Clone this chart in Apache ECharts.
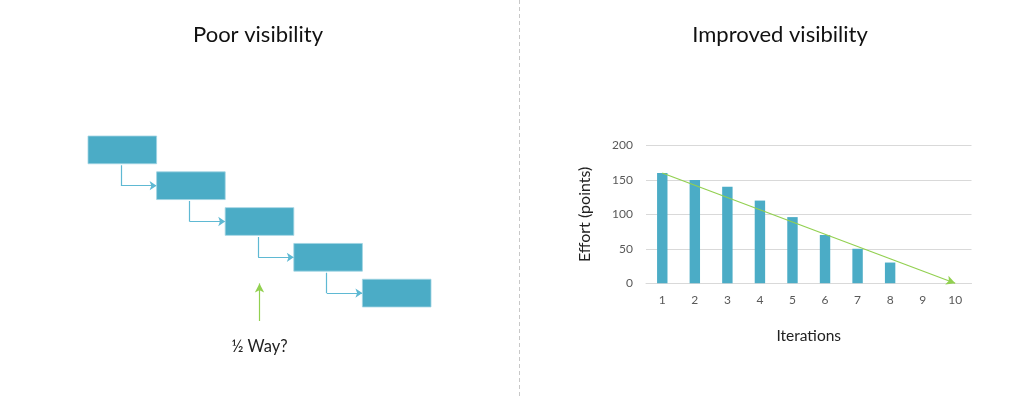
<!DOCTYPE html>
<html><head><meta charset="utf-8">
<script src="https://cdn.jsdelivr.net/npm/echarts@6/dist/echarts.min.js"></script>
<style>html,body{margin:0;padding:0;background:#fff}#c{width:1024px;height:399px}</style>
</head><body><div id="c"></div>
<script>
// Right chart data
const iterations = ['1','2','3','4','5','6','7','8','9','10'];
const effort = [160,150,140,120,96,70,50,30,null,null];
const idealStart = 160;
const idealEnd = 0;
// Left diagram data
const taskNames = ['Task 1','Task 2','Task 3','Task 4','Task 5'];
const taskStart = [0,1,2,3,4];
const taskEnd = [1,2,3,4,5];
const halfway = 2.5;
const halfwayLabel = '½ Way?';

const teal = '#4bacc6';
const green = '#92d050';
const connColor = '#5fb9d3';
const font = 'Lato, "Open Sans", sans-serif';

const taskData = taskNames.map((n,i)=>[taskStart[i], taskEnd[i], i + 0.5, n]);
const connDown = [], connRight = [];
for (let i = 0; i < taskNames.length - 1; i++) {
  const x0 = taskStart[i] + 0.48;
  connDown.push({coords: [[x0, i + 0.5 + 0.43], [x0, i + 1.5]]});
  connRight.push({coords: [[x0, i + 1.5], [taskStart[i+1], i + 1.5]]});
}

const chart = echarts.init(document.getElementById('c'));
chart.setOption({
  animation: false,
  backgroundColor: '#fff',
  title: [
    {text: 'Poor visibility', left: 253, top: 19, textAlign: 'center',
     textStyle: {fontFamily: font, fontSize: 22, fontWeight: 'normal', color: '#111'}},
    {text: 'Improved visibility', left: 775, top: 19, textAlign: 'center',
     textStyle: {fontFamily: font, fontSize: 22, fontWeight: 'normal', color: '#111'}}
  ],
  graphic: [{type: 'line', shape: {x1: 519.5, y1: 0, x2: 519.5, y2: 399},
             style: {stroke: '#c8c8c8', lineWidth: 1, lineDash: [4, 3]}}],
  grid: [
    {left: 88, top: 132, width: 343, height: 214.8},
    {left: 646, top: 145.5, width: 325.5, height: 137.7}
  ],
  xAxis: [
    {gridIndex: 0, type: 'value', min: 0, max: 5, show: false},
    {gridIndex: 1, type: 'category', data: iterations,
     axisLine: {lineStyle: {color: '#d9d9d9'}}, axisTick: {show: false},
     axisLabel: {color: '#595959', fontSize: 12, fontFamily: font, margin: 11},
     name: 'Iterations', nameLocation: 'middle', nameGap: 45,
     nameTextStyle: {color: '#222', fontSize: 15.5, fontFamily: font}}
  ],
  yAxis: [
    {gridIndex: 0, type: 'value', min: 0, max: 6, inverse: true, show: false},
    {gridIndex: 1, type: 'value', min: 0, max: 200, interval: 50,
     axisLine: {show: false}, axisTick: {show: false},
     splitLine: {lineStyle: {color: '#d9d9d9'}},
     axisLabel: {color: '#595959', fontSize: 12, fontFamily: font, margin: 13},
     name: 'Effort (points)', nameLocation: 'middle', nameGap: 53, nameRotate: 90,
     nameTextStyle: {color: '#222', fontSize: 16, fontFamily: font}}
  ],
  series: [
    {
      type: 'custom', xAxisIndex: 0, yAxisIndex: 0, data: taskData, z: 3,
      renderItem: function (params, api) {
        const p0 = api.coord([api.value(0), api.value(2)]);
        const p1 = api.coord([api.value(1), api.value(2)]);
        const h = api.size([0, 1])[1] * 0.774;
        return {type: 'rect', shape: {x: p0[0], y: p0[1] - h / 2, width: p1[0] - p0[0], height: h},
                style: {fill: teal, stroke: '#9fd3e2', lineWidth: 0.8}};
      },
      markLine: {
        silent: true, symbol: ['none', 'arrow'], symbolSize: [7, 9],
        lineStyle: {color: green, width: 1.2, type: 'solid'},
        label: {show: true, position: 'start', formatter: halfwayLabel, distance: 17,
                color: '#222', fontSize: 16.5, fontFamily: font},
        data: [[{coord: [halfway, 5.28]}, {coord: [halfway, 4.23]}]]
      }
    },
    {
      type: 'lines', coordinateSystem: 'cartesian2d', xAxisIndex: 0, yAxisIndex: 0, z: 2,
      data: connDown, symbol: ['none', 'none'],
      lineStyle: {color: connColor, width: 1.2, opacity: 1}
    },
    {
      type: 'lines', coordinateSystem: 'cartesian2d', xAxisIndex: 0, yAxisIndex: 0, z: 2,
      data: connRight, symbol: ['none', 'arrow'], symbolSize: 7,
      lineStyle: {color: connColor, width: 1.2, opacity: 1}
    },
    {
      type: 'bar', xAxisIndex: 1, yAxisIndex: 1, data: effort, barWidth: '32%',
      itemStyle: {color: teal},
      markLine: {
        silent: true, symbol: ['none', 'arrow'], symbolSize: [7, 9],
        lineStyle: {color: green, width: 1.2, type: 'solid'}, label: {show: false},
        data: [[{coord: ['1', idealStart]}, {coord: ['10', idealEnd]}]]
      }
    }
  ]
});
</script></body></html>
